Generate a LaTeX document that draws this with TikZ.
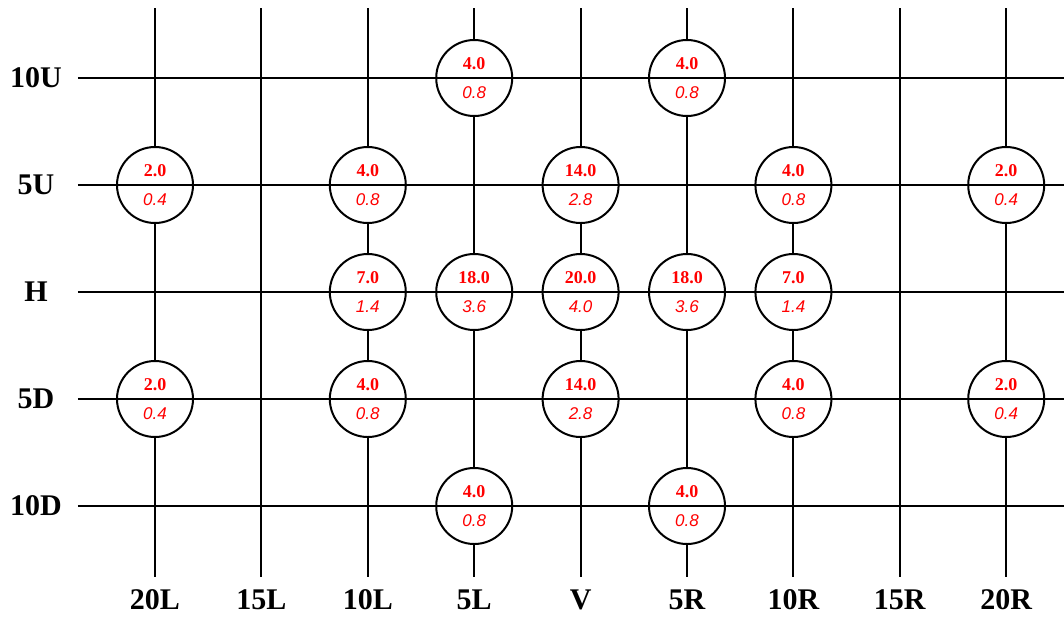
\documentclass[tikz,border=0pt]{standalone}
\usepackage{fontspec}
\setmainfont{Liberation Serif}
\newfontfamily\numsans{Liberation Sans}
\usepackage{xcolor}
\usetikzlibrary{positioning}
\definecolor{valred}{HTML}{FF0000}

\begin{document}
\begin{tikzpicture}[x=53.2pt,y=-53.5pt,line width=1pt,
  axis/.style={font=\fontsize{15}{18}\selectfont\bfseries,inner sep=0pt},
  cell/.style={circle,draw,fill=white,minimum size=38pt,inner sep=0pt,
    path picture={\draw[line width=0.8pt] (path picture bounding box.west) -- (path picture bounding box.east);}},
  up/.style={text=valred,font=\fontsize{9}{10}\selectfont\bfseries,inner sep=0pt,yshift=7pt},
  dn/.style={text=valred,font=\numsans\fontsize{8.5}{10}\selectfont\itshape,inner sep=0pt,yshift=-7.5pt}]
\useasboundingbox (-1.4568,-0.7290) rectangle (8.5432,5.0280);
% grid
\foreach \r/\name in {0/10U,1/5U,2/H,3/5D,4/10D} {
  \node[axis] (row\r) at (-1.118,\r) {\name};
  \draw (-0.724,\r) -- (8.5432,\r);
}
\foreach \c/\name in {0/20L,1/15L,2/10L,3/5L,4/V,5/5R,6/10R,7/15R,8/20R} {
  \node[axis] (col\c) at (\c,4.879) {\name};
  \draw (\c,-0.654) -- (\c,4.664);
}
% values
\foreach \c/\r/\a/\b in {3/0/4.0/0.8, 5/0/4.0/0.8,
  0/1/2.0/0.4, 2/1/4.0/0.8, 4/1/14.0/2.8, 6/1/4.0/0.8, 8/1/2.0/0.4,
  2/2/7.0/1.4, 3/2/18.0/3.6, 4/2/20.0/4.0, 5/2/18.0/3.6, 6/2/7.0/1.4,
  0/3/2.0/0.4, 2/3/4.0/0.8, 4/3/14.0/2.8, 6/3/4.0/0.8, 8/3/2.0/0.4,
  3/4/4.0/0.8, 5/4/4.0/0.8} {
  \node[cell] (n\c\r) at (\c,\r) {};
  \node[up] at (n\c\r.center) {\a};
  \node[dn] at (n\c\r.center) {\b};
}
\end{tikzpicture}
\end{document}
